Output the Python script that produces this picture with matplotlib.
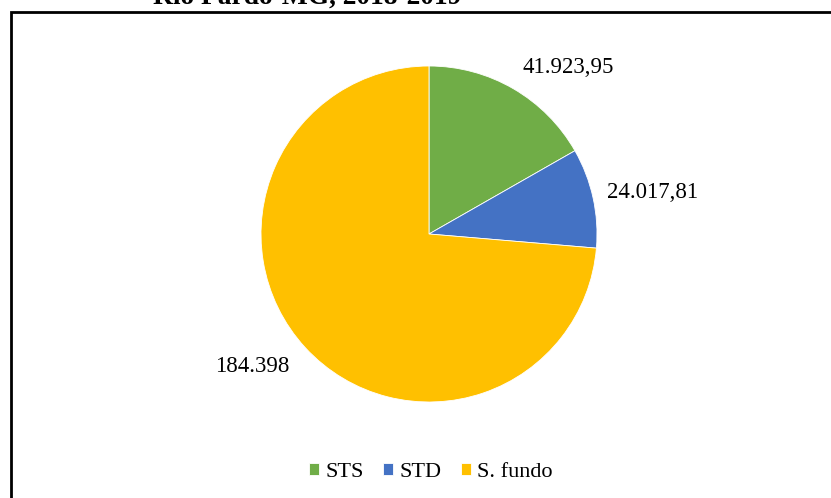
import matplotlib
matplotlib.use("Agg")
import matplotlib.pyplot as plt
from matplotlib.patches import Rectangle
import numpy as np

plt.rcParams['font.family'] = ['Liberation Serif', 'DejaVu Serif']

# Dados (STS, STD, S. fundo)
categorias = ['STS', 'STD', 'S. fundo']
valores = [41923.95, 24017.81, 184398]
rotulos = ['41.923,95', '24.017,81', '184.398']
cores = ['#70AD47', '#4472C4', '#FFC000']

W, H = 831, 498
fig = plt.figure(figsize=(W / 100, H / 100), dpi=100)

# Área do gráfico de pizza (centro ~ (429, 234), raio ~168 px)
cx, cy, r = 429, 234, 168
ax = fig.add_axes([(cx - r) / W, (H - cy - r) / H, 2 * r / W, 2 * r / H])
wedges, _ = ax.pie(valores, colors=cores, startangle=90, counterclock=False,
                   radius=1, wedgeprops=dict(edgecolor='white', linewidth=0.6))
ax.set_xlim(-1, 1)
ax.set_ylim(-1, 1)
ax.set_aspect('equal')
ax.axis('off')

# Rótulos de valor fora das fatias
pos_rotulos = [(0.83, 0.99), (1.33, 0.245), (-1.05, -0.79)]
for txt, (x, y) in zip(rotulos, pos_rotulos):
    ax.text(x, y, txt, ha='center', va='center', fontsize=16.5, clip_on=False)

# Legenda
fig.legend(wedges, categorias, loc='center', bbox_to_anchor=(431 / W, 1 - 472 / H),
           ncol=3, frameon=False, fontsize=16, handlelength=0.45, handleheight=0.45,
           handletextpad=0.3, columnspacing=0.85)

# Título (cortado no topo)
fig.text(153 / W, 1 - 3.5 / H, 'Rio Pardo-MG, 2018-2019', ha='left', va='baseline',
         fontsize=19.8, fontweight='bold')

# Moldura
fig.patches.append(Rectangle((11 / W, -0.1), 1.0, 1 - 12 / H + 0.1, transform=fig.transFigure,
                             fill=False, edgecolor='black', linewidth=2, clip_on=False))

fig.savefig('out.png', dpi=100)
